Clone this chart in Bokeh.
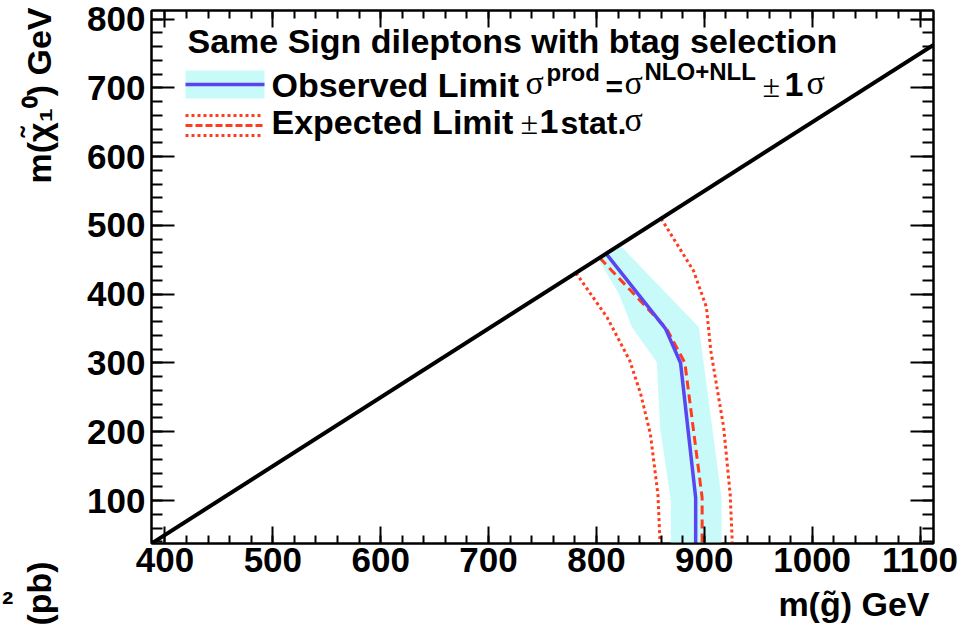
import math
from bokeh.plotting import figure
from bokeh.models import Label, LinearAxis, SingleIntervalTicker, Range1d, Title
from bokeh.embed import file_html
from bokeh.resources import INLINE

# ---------------- data ----------------
x_range = [387.5, 1112.5]          # m(gluino) GeV
y_range = [37.5, 812.5]            # m(neutralino) GeV

diag_x = [387.5, 1112.5]
diag_y = [37.5, 762.5]

obs_x = [809, 864, 878, 892, 892]
obs_y = [459, 350, 300, 104, 37.5]

exp_x = [803, 865, 882, 898, 898]
exp_y = [453, 350, 300, 104, 37.5]

exp_minus_x = [781, 810, 831, 841, 850, 857, 859]
exp_minus_y = [431, 366, 303, 255, 197, 109, 37.5]

exp_plus_x = [860, 890, 902, 906, 918, 924, 926]
exp_plus_y = [510, 434, 381, 318, 206, 109, 37.5]

band_x = [801, 821, 833, 856, 859, 869, 869, 916, 916, 895, 822]
band_y = [453, 400, 352, 301, 206, 100, 37.5, 37.5, 104, 352, 471]

x_ticks_interval = 100
y_ticks_interval = 100

# ---------------- styles ----------------
BLUE = "#5a46f0"
RED = "#ff3c1e"
CYAN = "#c8fafa"
SANS = "Liberation Sans"
SERIF = "Liberation Serif"
NB = "\u00a0"

W, H = 965, 630
ML, MR, MT, MB = 151, 32, 10, 87
FL, FT = ML, MT                      # frame left/top on canvas
FW, FH = W - ML - MR, H - MT - MB


def X(px):
    """canvas pixel x -> data x (for annotation placement)"""
    return x_range[0] + (px - FL) / FW * (x_range[1] - x_range[0])


def Y(py):
    """canvas pixel y -> data y (for annotation placement)"""
    return y_range[1] - (py - FT) / FH * (y_range[1] - y_range[0])


p = figure(width=W, height=H, output_backend="svg", toolbar_location=None,
           x_range=Range1d(*x_range), y_range=Range1d(*y_range),
           min_border_left=ML, min_border_right=MR, min_border_top=MT,
           min_border_bottom=MB, background_fill_color="white",
           border_fill_color="white")
p.grid.visible = False
p.outline_line_color = "black"
p.outline_line_width = 2

xt = SingleIntervalTicker(interval=x_ticks_interval, num_minor_ticks=5)
yt = SingleIntervalTicker(interval=y_ticks_interval, num_minor_ticks=5)


def style_axis(ax, ticker, tin, label_size):
    ax.ticker = ticker
    ax.axis_line_color = "black"
    ax.axis_line_width = 2
    ax.major_tick_in = tin
    ax.major_tick_out = 0
    ax.minor_tick_in = tin // 2
    ax.minor_tick_out = 0
    ax.major_tick_line_width = 2
    ax.minor_tick_line_width = 2
    ax.major_label_text_font = SANS
    ax.major_label_text_font_style = "bold"
    ax.major_label_text_font_size = label_size
    ax.major_label_text_color = "black"


style_axis(p.xaxis[0], xt, 17, "35px")
style_axis(p.yaxis[0], yt, 23, "35px")
p.xaxis[0].major_label_standoff = 4
p.yaxis[0].major_label_standoff = 6

# mirrored tick marks on the top and right edges, without labels
top = LinearAxis()
style_axis(top, SingleIntervalTicker(interval=x_ticks_interval, num_minor_ticks=5), 17, "1px")
top.major_label_standoff = 0
top.major_label_text_color = None
right = LinearAxis()
style_axis(right, SingleIntervalTicker(interval=y_ticks_interval, num_minor_ticks=5), 23, "1px")
right.major_label_standoff = 0
right.major_label_text_color = None
p.add_layout(top, "above")
p.add_layout(right, "right")


def title(text, size, align, offset, style="bold", standoff=0):
    return Title(text=text, align=align, offset=offset, text_font=SANS,
                 text_font_style=style, text_font_size=f"{size}px",
                 text_color="black", standoff=standoff)


# x axis title, right-aligned under the frame (ROOT style); the lone
# superscript at the far left is the clipped fragment of the next pad
p.add_layout(title("\u00b2" + NB * 81 + "m(g\u0303) GeV", 34, "right", 4,
                   standoff=16), "below")

# y axis title (top-aligned, ROOT style) with the "(pb)" fragment below
p.add_layout(title(NB, 22, "right", 0), "left")          # spacer column
p.add_layout(title("(pb)" + NB * 40 + "m(\u03c7\u0303\u2081\u2070) GeV",
                   34, "left", -82), "left")

# ---------------- data marks ----------------
p.patch(band_x, band_y, fill_color=CYAN, line_color=None)
p.line(exp_minus_x, exp_minus_y, line_color=RED, line_width=3, line_dash="3 3")
p.line(exp_plus_x, exp_plus_y, line_color=RED, line_width=3, line_dash="3 3")
p.line(exp_x, exp_y, line_color=RED, line_width=3, line_dash="9 5")
p.line(obs_x, obs_y, line_color=BLUE, line_width=3.5)
p.line(diag_x, diag_y, line_color="black", line_width=4)

# ---------------- legend ----------------
p.quad(left=[X(185)], right=[X(264)], top=[Y(70)], bottom=[Y(98)],
       fill_color=CYAN, line_color=None)
p.line([X(185), X(264)], [Y(84), Y(84)], line_color=BLUE, line_width=3.5)
p.line([X(185), X(263)], [Y(115), Y(115)], line_color=RED, line_width=3, line_dash="3 3")
p.line([X(185), X(263)], [Y(125), Y(125)], line_color=RED, line_width=3, line_dash="7 3")
p.line([X(185), X(263)], [Y(135), Y(135)], line_color=RED, line_width=3, line_dash="3 3")


def txt(px, py, s, size, font=SANS, style="bold"):
    # baseline py; Bokeh's alphabetic baseline sits ~0.28 em lower here
    p.add_layout(Label(x=X(px), y=Y(py - 0.28 * size), text=s, text_font=font,
                       text_font_style=style, text_font_size=f"{size}px",
                       text_align="left", text_baseline="alphabetic",
                       text_color="black"))


LEG = 34
txt(187, 50, "Same Sign dileptons with btag selection", LEG)
# row 1
txt(271, 94, "Observed Limit", LEG)
txt(525, 92, "σ", 34, font=SERIF, style="normal")
txt(546, 79, "prod", 24)
txt(605, 94, "=", 30)
txt(624, 92, "σ", 34, font=SERIF, style="normal")
txt(644, 78, "NLO+NLL", 24)
txt(762, 94, "±", 32, font=SERIF, style="normal")
txt(784, 94, "1", LEG)
txt(806, 92, "σ", 34, font=SERIF, style="normal")
# row 2
txt(271, 131, "Expected Limit", LEG)
txt(520, 131, "±", 32, font=SERIF, style="normal")
txt(539, 131, "1", LEG)
txt(560, 131, "stat.", 32)
txt(624, 129, "σ", 34, font=SERIF, style="normal")

open("out.html", "w").write(file_html(p, INLINE))
